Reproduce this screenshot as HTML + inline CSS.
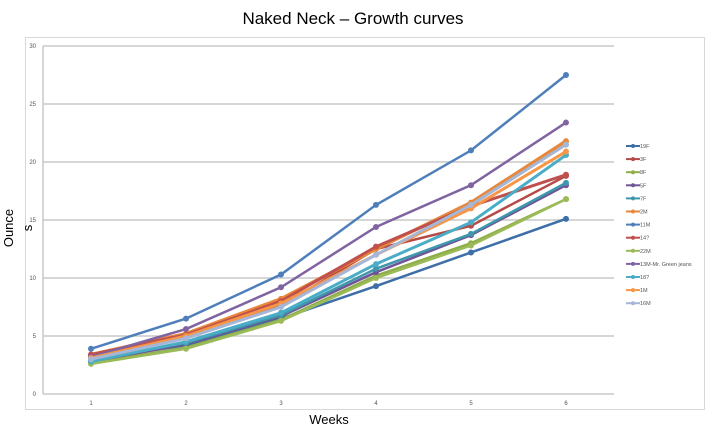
<!DOCTYPE html>
<html><head><meta charset="utf-8"><style>
body{margin:0;background:#fff;width:706px;height:431px;overflow:hidden;font-family:"Liberation Sans",sans-serif}
</style></head><body>
<svg id="s" width="706" height="431" xmlns="http://www.w3.org/2000/svg" font-family="Liberation Sans, sans-serif">
<text x="353" y="24" font-size="17" text-anchor="middle" fill="#000">Naked Neck – Growth curves</text>
<rect x="25.5" y="37.5" width="679" height="372" fill="#fff" stroke="#d8d8d8"/>
<g id="grid" stroke="#c8c8c8" stroke-width="1.5"></g>
<line x1="43" y1="46" x2="43" y2="394" stroke="#c8c8c8" stroke-width="1.5"/>
<g id="ticks" font-size="6" fill="#555"></g>
<g id="series"></g>
<g id="legend" font-size="5.5" fill="#555"></g>
<text x="13" y="228" font-size="13" text-anchor="middle" transform="rotate(-90 13 228)">Ounce</text>
<text x="32" y="228" font-size="13" text-anchor="middle" transform="rotate(-90 32 228)">s</text>
<text x="329" y="424" font-size="13" text-anchor="middle">Weeks</text>
</svg>
<script>
var NS="http://www.w3.org/2000/svg";
function el(t,a,p,txt){var e=document.createElementNS(NS,t);for(var k in a)e.setAttribute(k,a[k]);if(txt)e.textContent=txt;document.getElementById(p).appendChild(e);return e;}
function Y(v){return 394-v*11.6}
function X(w){return 91+(w-1)*95}
for(var v=0;v<=30;v+=5){el('line',{x1:43,x2:614,y1:Y(v),y2:Y(v)},'grid');el('text',{x:36,y:Y(v)+2,'text-anchor':'end'},'ticks',String(v));}
for(var w=1;w<=6;w++){el('text',{x:X(w),y:405,'text-anchor':'middle'},'ticks',String(w));}
var S=[
["19F","#3d6ea8",[3.0,4.2,6.5,9.3,12.2,15.1],2.5],
["3F","#b54a47",[3.3,5.0,7.6,12.5,14.5,18.8],2.5],
["8F","#8fae4a",[2.7,4.0,6.4,10.2,13.0,16.8],2.5],
["5F","#6e5496",[2.8,4.3,6.7,10.5,13.7,18.0],2.5],
["7F","#3d97ad",[2.9,4.4,6.8,10.8,13.8,18.2],2.5],
["2M","#e7883a",[3.4,5.2,8.2,12.5,16.5,21.8],3.5],
["11M","#4f7fba",[3.9,6.5,10.3,16.3,21.0,27.5],2.5],
["14?","#c0504d",[3.4,5.1,8.0,12.7,16.2,18.9],3],
["22M","#9bbb59",[2.6,3.9,6.3,10.0,12.8,16.8],2.5],
["13M-Mr. Green jeans","#8064a2",[3.2,5.6,9.2,14.4,18.0,23.4],2.5],
["18?","#4bacc6",[2.8,4.5,7.0,11.2,14.8,20.6],3],
["1M","#f79646",[3.1,5.0,7.8,12.0,16.0,20.9],3],
["16M","#a5b6d6",[3.0,4.8,7.5,12.0,16.3,21.5],3]];
S.forEach(function(s,i){
 var pts=s[2].map(function(v,j){return X(j+1)+","+Y(v)}).join(" ");
 el('polyline',{points:pts,fill:"none",stroke:s[1],'stroke-width':s[3]},'series');
 s[2].forEach(function(v,j){el('circle',{cx:X(j+1),cy:Y(v),r:3,fill:s[1]},'series');});
 var ly=146+i*13.1;
 el('line',{x1:626,x2:640,y1:ly,y2:ly,stroke:s[1],'stroke-width':2},'legend');
 el('circle',{cx:633,cy:ly,r:2,fill:s[1]},'legend');
 el('text',{x:640,y:ly+2},'legend',s[0]);
});
</script>
</body></html>
